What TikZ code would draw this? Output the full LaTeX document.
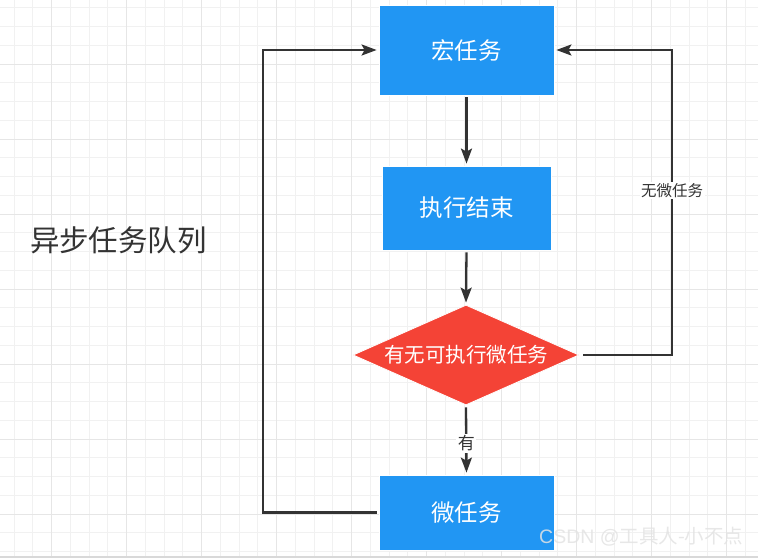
\documentclass[tikz,border=0pt]{standalone}
\usepackage{fontspec}
\newfontfamily\cjk{Noto Sans CJK SC}
\usetikzlibrary{shapes.geometric,arrows.meta}
\definecolor{boxblue}{RGB}{33,150,243}
\definecolor{dred}{RGB}{244,67,54}
\definecolor{ink}{RGB}{51,51,51}
\definecolor{gminor}{RGB}{241,241,241}
\definecolor{gmajor}{RGB}{230,230,230}
\tikzset{
  box/.style={rectangle, fill=boxblue, draw=white, line width=0.8pt, text=white, inner sep=0pt, font=\cjk\fontsize{23.5}{24}\selectfont},
  decision/.style={diamond, fill=dred, draw=white, line width=0.8pt, text=white, inner sep=0pt, aspect=2.26, minimum width=226pt, minimum height=100pt, font=\cjk\fontsize{20.5}{21}\selectfont},
  arr/.style={draw=ink, line width=2.3pt, -{Stealth[length=15pt,width=11pt,inset=3pt]}},
  lab/.style={fill=white, text=ink, inner sep=1.5pt, font=\cjk\fontsize{15.5}{16}\selectfont}
}
\begin{document}
\begin{tikzpicture}[x=1pt,y=-1pt]
\useasboundingbox (0,0) rectangle (758,558);
\fill[white] (0,0) rectangle (758,558);
% grid
\foreach \i in {0,...,40} {
  \draw[gminor, line width=1pt] ({14.2+18.75*\i},0) -- ({14.2+18.75*\i},558);
}
\foreach \j in {0,...,29} {
  \draw[gminor, line width=1pt] (0,{7.75+18.75*\j}) -- (758,{7.75+18.75*\j});
}
\foreach \i in {0,...,9} {
  \draw[gmajor, line width=1pt] ({51.7+75*\i},0) -- ({51.7+75*\i},558);
}
\foreach \j in {0,...,6} {
  \draw[gmajor, line width=1pt] (0,{64+75*\j}) -- (758,{64+75*\j});
}
\fill[gray!30] (0,555.5) rectangle (758,558);

% title
\node[text=ink, font=\cjk\fontsize{29.5}{30}\selectfont] (title) at (118.5,240) {异步任务队列};

% nodes
\node[box, minimum width=175pt, minimum height=90pt] (m) at (466.5,50) {宏任务};
\node[box, minimum width=169pt, minimum height=84pt] (e) at (466.5,208) {执行结束};
\node[decision] (d) at (466,355) {\makebox[0pt]{有无可执行微任务}};
\node[box, minimum width=175pt, minimum height=75pt] (w) at (466.5,512.5) {微任务};

% connectors
\draw[arr, shorten <=2pt, shorten >=2pt] (m.south) -- (e.north);
\draw[arr, shorten <=2pt, shorten >=2pt] (e.south) -- (d.north);
\draw[arr, shorten <=2pt, shorten >=2pt] (d.south) -- node[lab, pos=0.55, font=\cjk\fontsize{17}{17}\selectfont]{有} (w.north);

\coordinate (cr) at (672,50);
\coordinate (crb) at (672,355);
\draw[arr, shorten <=4pt, shorten >=2pt, line join=miter] (d.east) -- (crb) -- node[lab, pos=0.54]{无微任务} (cr) -- (m.east);

\coordinate (cl) at (263,50);
\coordinate (clb) at (263,512.5);
\draw[arr, shorten <=2pt, shorten >=2pt, line join=miter] (w.west) -- (clb) -- (cl) -- (m.west);

% watermark
\node[text=white!78!gray, opacity=0.85, font=\fontspec{Liberation Sans}\fontsize{19.5}{20}\selectfont, anchor=west, inner sep=0pt] (wm) at (539,537) {CSDN @{\cjk 工具人-小不点}};
\end{tikzpicture}
\end{document}
